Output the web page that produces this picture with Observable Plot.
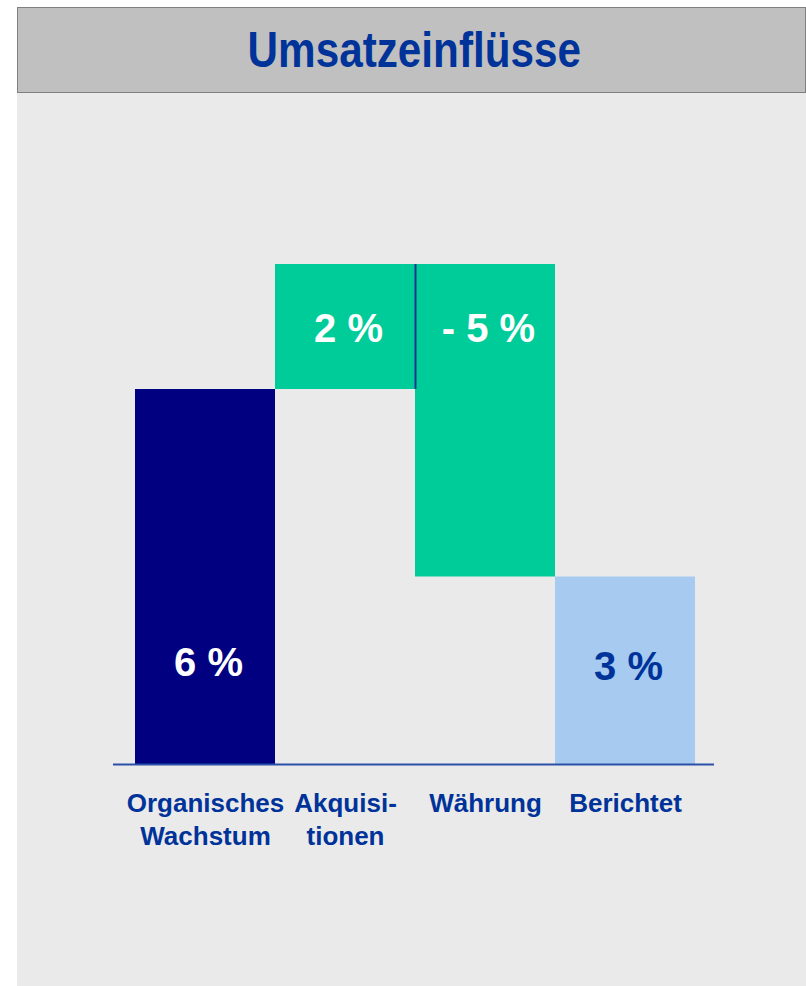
<!DOCTYPE html>
<html>
<head>
<meta charset="utf-8">
<script src="https://cdn.jsdelivr.net/npm/d3@7"></script>
<script src="https://cdn.jsdelivr.net/npm/@observablehq/plot@0.6"></script>
<style>
  html, body { margin: 0; padding: 0; background: #ffffff; width: 806px; height: 986px; overflow: hidden; }
  #header {
    position: absolute; left: 17px; top: 7px; width: 789px; height: 86px;
    box-sizing: border-box; background: #c0c0c0; border: 1.5px solid #7f7f7f;
    display: flex; align-items: center; justify-content: center;
  }
  #header h1 {
    margin: 0; padding-bottom: 0px; font-family: "Liberation Sans", Arial, sans-serif;
    font-weight: bold; font-size: 50px; color: #003399; letter-spacing: 0px;
    transform: scaleX(0.845); transform-origin: center; position: relative; left: 3px;
  }
  #panel { position: absolute; left: 17px; top: 93px; width: 789px; height: 893px; background: #eaeaea; }
  #panel svg { display: block; background: transparent; }
</style>
</head>
<body>
<div id="header"><h1>Umsatzeinflüsse</h1></div>
<div id="panel"></div>
<script>
// ---- data ----
const categories = ["Organisches Wachstum", "Akquisitionen", "Währung", "Berichtet"];
const tickLabels = ["Organisches\nWachstum", "Akquisi-\ntionen", "Währung", "Berichtet"];
const starts = [0, 6, 8, 0];
const ends = [6, 8, 3, 3];
const valueLabels = ["6 %", "2 %", "- 5 %", "3 %"];
const labelAt = [1.62, 6.96, 6.96, 1.55];
const barColors = ["#000080", "#00cc99", "#00cc99", "#a6caf0"];
const labelColors = ["#ffffff", "#ffffff", "#ffffff", "#003399"];

const bars = categories.map((c, i) => ({
  cat: c, y1: starts[i], y2: ends[i], label: valueLabels[i], ly: labelAt[i],
  fill: barColors[i], tfill: labelColors[i]
}));
const connector = [{cat: categories[2], y1: starts[1], y2: ends[1]}];

const chart = Plot.plot({
  width: 789,
  height: 893,
  marginLeft: 96,
  marginRight: 92,
  marginTop: 0,
  marginBottom: 221,
  style: { background: "transparent", fontFamily: "'Liberation Sans', Arial, sans-serif" },
  x: { domain: categories, range: [118, 678], padding: 0, align: 0.5 },
  y: { domain: [0, 8], range: [671, 171] },
  marks: [
    Plot.barY(bars, { x: "cat", y1: "y1", y2: "y2", fill: d => d.fill, inset: 0 }),
    Plot.ruleX(connector, { x: "cat", y1: "y1", y2: "y2", dx: -70, stroke: "#1a3590", strokeWidth: 2 }),
    Plot.ruleY([0], { stroke: "#2a50a8", strokeWidth: 2 }),
    Plot.text(bars, { x: "cat", y: "ly", text: "label", fill: d => d.tfill, fontSize: 40, fontWeight: "bold", dx: 3 }),
    Plot.axisX({
      tickSize: 0, tickPadding: 23, fontSize: 26, fontWeight: "bold", fill: "#003399",
      lineHeight: 1.27, label: null,
      tickFormat: d => tickLabels[categories.indexOf(d)]
    }),
    Plot.axisY({ ticks: [], label: null, tickSize: 0 })
  ]
});
document.getElementById("panel").appendChild(chart);
</script>
</body>
</html>
